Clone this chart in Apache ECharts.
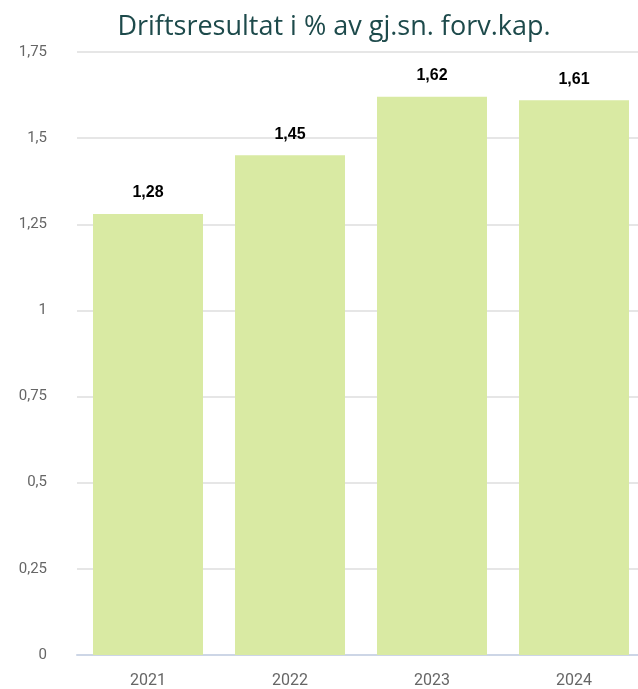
<!DOCTYPE html>
<html>
<head>
<meta charset="utf-8">
<script src="https://cdn.jsdelivr.net/npm/echarts@6/dist/echarts.min.js"></script>
<style>
  html, body { margin: 0; padding: 0; background: #ffffff; overflow: hidden; }
  #chart { width: 638px; height: 689px; }
</style>
</head>
<body>
<div id="chart"></div>
<script>
// Operating result as % of average capital employed, per year
const years = ['2021', '2022', '2023', '2024'];
const values = [1.28, 1.45, 1.62, 1.61];
const yTicks = [0, 0.25, 0.5, 0.75, 1, 1.25, 1.5, 1.75];

const fmt = v => String(v).replace('.', ',');

const chart = echarts.init(document.getElementById('chart'), null, { renderer: 'canvas' });
chart.setOption({
  animation: false,
  title: {
    text: 'Driftsresultat i % av gj.sn. forv.kap.',
    left: 329,
    textAlign: 'center',
    top: 9,
    textStyle: {
      fontFamily: 'Open Sans',
      fontWeight: 'normal',
      fontSize: 27,
      color: '#1d4a4b'
    }
  },
  grid: {
    left: 77, right: -7, top: 52, bottom: 34,
    containLabel: false,
    outerBoundsMode: 'none'
  },
  xAxis: {
    type: 'category',
    data: years,
    axisLine: { show: true, lineStyle: { color: '#cdd6e6', width: 2 } },
    axisTick: { show: false },
    axisLabel: {
      color: '#666666',
      fontFamily: 'Roboto',
      fontSize: 16,
      margin: 18
    }
  },
  yAxis: {
    type: 'value',
    min: yTicks[0],
    max: yTicks[yTicks.length - 1],
    interval: 0.25,
    axisLine: { show: false },
    axisTick: { show: false },
    splitLine: { lineStyle: { color: '#e6e6e6', width: 2 } },
    axisLabel: {
      color: '#666666',
      fontFamily: 'Roboto',
      fontSize: 15,
      margin: 30,
      formatter: v => fmt(v)
    }
  },
  series: [{
    type: 'bar',
    data: values,
    barWidth: 110,
    itemStyle: { color: '#d9eaa3' },
    label: {
      show: true,
      position: 'top',
      distance: 13,
      color: '#000000',
      fontFamily: 'Liberation Sans',
      fontWeight: 'bold',
      fontSize: 16,
      formatter: p => fmt(p.value)
    }
  }]
});
</script>
</body>
</html>
